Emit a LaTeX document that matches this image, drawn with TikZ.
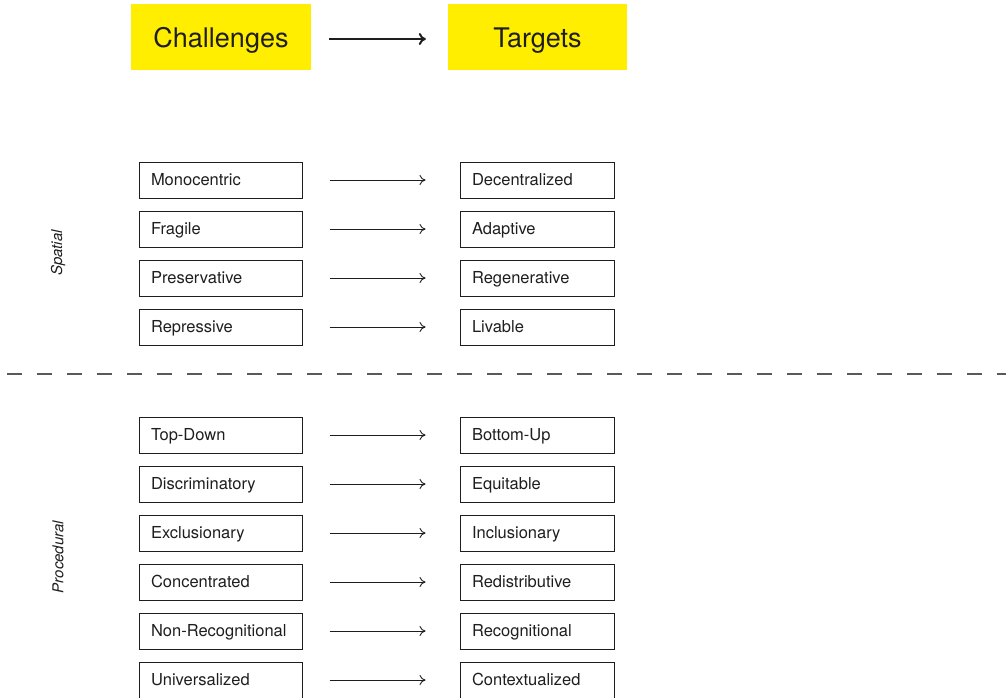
\documentclass[tikz,border=0pt]{standalone}
\usepackage{fontspec}
\setmainfont{TeX Gyre Heros}
\usetikzlibrary{arrows.meta}
\definecolor{hdryellow}{RGB}{255,238,0}
\definecolor{txt}{RGB}{30,30,30}
\tikzset{
  hdr/.style={fill=hdryellow, minimum height=66pt, inner sep=0pt, text height=20pt, text depth=0pt, text=txt, font=\fontsize{27}{30}\selectfont},
  lbox/.style={draw=txt, line width=1pt, minimum height=36pt, inner xsep=12pt, inner ysep=0pt, text height=12.5pt, text depth=0.7pt, text width=139pt, align=left, text=txt, font=\fontsize{16.5}{19}\selectfont},
  rbox/.style={lbox, text width=130pt},
  conn/.style={draw=txt, line width=0.9pt, -{To[length=6pt,width=10pt]}, shorten <=27pt, shorten >=34pt},
  side/.style={rotate=90, text=txt, font=\fontsize{15}{18}\selectfont\itshape},
}
\begin{document}
\begin{tikzpicture}[x=1pt,y=-1pt]
\useasboundingbox (0,0) rectangle (1006,697);
% header
\node[hdr, minimum width=180pt] (ch) at (221,37) {Challenges};
\node[hdr, minimum width=179pt] (tg) at (537.5,37) {Targets};
\draw[draw=txt, line width=2pt, -{To[length=7pt,width=12pt]}, shorten <=18pt, shorten >=22pt] ([yshift=-2pt]ch.east) -- ([yshift=-2pt]tg.west);
% side labels
\node[side] (sp) at (58,253) {Spatial};
\node[side] (pr) at (58,557) {Procedural};
% separator
\coordinate (dl) at (7,374);
\coordinate (dr) at (1006,374);
\draw[draw=black!65, line width=1.5pt, dash pattern=on 15pt off 15pt] (dl) -- (dr);
% rows
\foreach \y/\a/\b [count=\i] in {180/Monocentric/Decentralized, 229/Fragile/Adaptive, 278/Preservative/Regenerative, 327/Repressive/Livable, 435/Top-Down/Bottom-Up, 484/Discriminatory/Equitable, 533/Exclusionary/Inclusionary, 582/Concentrated/Redistributive, 631/Non-Recognitional/Recognitional, 680/Universalized/Contextualized}{
  \node[lbox, minimum width=163pt] (l\i) at (220.5,\y) {\a};
  \node[rbox, minimum width=154pt] (r\i) at (537,\y) {\b};
  \draw[conn] (l\i.east) -- (r\i.west);
}
\end{tikzpicture}
\end{document}
